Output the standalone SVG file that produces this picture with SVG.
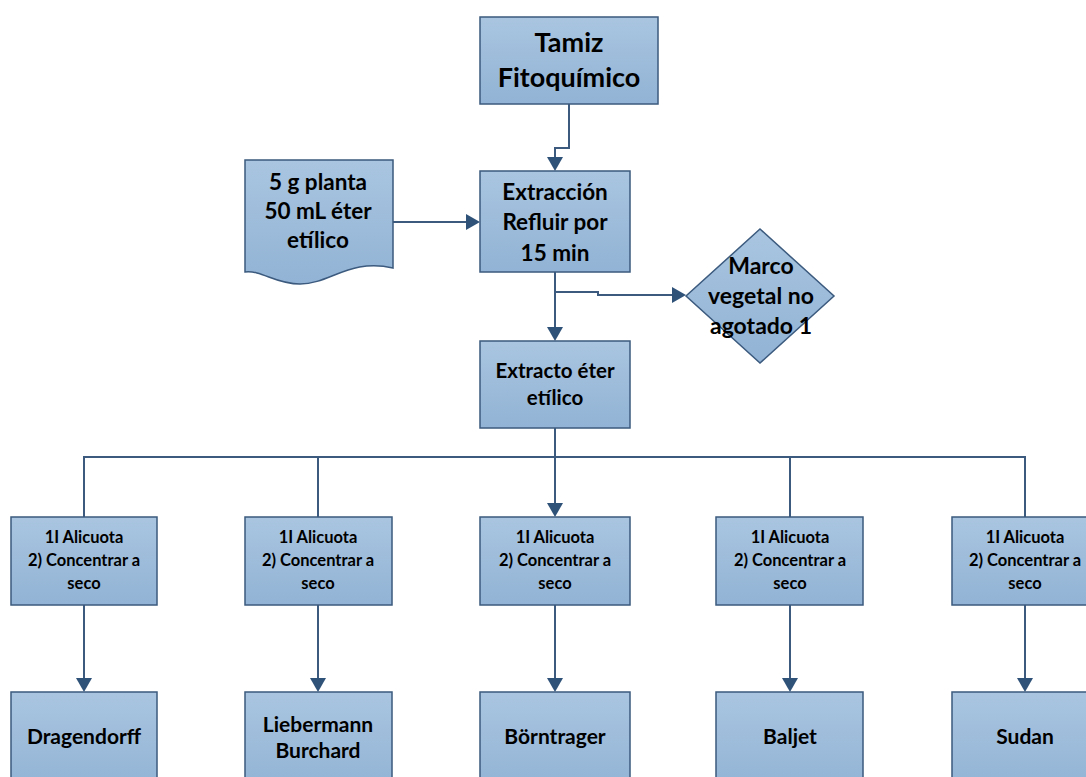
<svg xmlns="http://www.w3.org/2000/svg" width="1086" height="777" viewBox="0 0 1086 777">
<style>
.n{fill:url(#g);stroke:#3b5a7e;stroke-width:1.5}
.t{font-family:Lato,"Liberation Sans",sans-serif;font-weight:bold;fill:#000;text-anchor:middle}
.c{fill:none;stroke:#3b5a7e;stroke-width:2}
</style>
<defs>
<linearGradient id="g" x1="0" y1="0" x2="0" y2="1">
<stop offset="0" stop-color="#a9c5e0"/>
<stop offset="1" stop-color="#92b3d5"/>
</linearGradient>
<marker id="b" markerWidth="14" markerHeight="16" refX="12" refY="8" orient="auto" markerUnits="userSpaceOnUse" viewBox="0 0 14 16">
<path d="M0,0 L14,8 L0,16 Z" fill="#2f5279"/>
</marker>
</defs>
<g id="connectors">
<path class="c" d="M569,104 V148 H555 V169" marker-end="url(#b)"/>
<path class="c" d="M393,222 H478" marker-end="url(#b)"/>
<path class="c" d="M555,272 V339" marker-end="url(#b)"/>
<path class="c" d="M555,292 H598 V295 H684" marker-end="url(#b)"/>
<path class="c" d="M555,428 V515" marker-end="url(#b)"/>
<path class="c" d="M84,517 V457 H1025 V517"/>
<path class="c" d="M318,457 V517"/>
<path class="c" d="M790,457 V517"/>
<path class="c" d="M84,605 V690" marker-end="url(#b)"/>
<path class="c" d="M318,605 V690" marker-end="url(#b)"/>
<path class="c" d="M555,605 V690" marker-end="url(#b)"/>
<path class="c" d="M790,605 V690" marker-end="url(#b)"/>
<path class="c" d="M1025,605 V690" marker-end="url(#b)"/>
</g>
<g id="tamiz">
<rect class="n" x="480" y="17" width="178" height="87"/>
<text class="t" font-size="27"><tspan x="569" y="52">Tamiz</tspan><tspan x="569" y="87">Fitoquímico</tspan></text>
</g>
<g id="documento">
<path class="n" d="M245,160 H393 V268 C350,258 330,284 300,284 C275,284 262,270 245,272 Z"/>
<text class="t" font-size="22.5"><tspan x="318" y="190">5 g planta</tspan><tspan x="318" y="219">50 mL éter</tspan><tspan x="318" y="248">etílico</tspan></text>
</g>
<g id="extraccion">
<rect class="n" x="480" y="171" width="150" height="101"/>
<text class="t" font-size="22.5"><tspan x="555" y="200">Extracción</tspan><tspan x="555" y="230">Refluir por</tspan><tspan x="555" y="261">15 min</tspan></text>
</g>
<g id="marco">
<path class="n" d="M760,229 L834,296 L760,363 L686,296 Z"/>
<text class="t" font-size="23"><tspan x="761" y="274">Marco</tspan><tspan x="761" y="304">vegetal no</tspan><tspan x="761" y="334">agotado 1</tspan></text>
</g>
<g id="extracto">
<rect class="n" x="480" y="341" width="150" height="87"/>
<text class="t" font-size="20.5"><tspan x="555" y="378">Extracto éter</tspan><tspan x="555" y="405">etílico</tspan></text>
</g>
<g id="alicuota1">
<rect class="n" x="11" y="517" width="146" height="88"/>
<text class="t" font-size="16.5"><tspan x="84" y="543">1I Alicuota</tspan><tspan x="84" y="566">2) Concentrar a</tspan><tspan x="84" y="589">seco</tspan></text>
</g>
<g id="alicuota2">
<rect class="n" x="245" y="517" width="147" height="88"/>
<text class="t" font-size="16.5"><tspan x="318" y="543">1I Alicuota</tspan><tspan x="318" y="566">2) Concentrar a</tspan><tspan x="318" y="589">seco</tspan></text>
</g>
<g id="alicuota3">
<rect class="n" x="480" y="517" width="150" height="88"/>
<text class="t" font-size="16.5"><tspan x="555" y="543">1I Alicuota</tspan><tspan x="555" y="566">2) Concentrar a</tspan><tspan x="555" y="589">seco</tspan></text>
</g>
<g id="alicuota4">
<rect class="n" x="716" y="517" width="147" height="88"/>
<text class="t" font-size="16.5"><tspan x="790" y="543">1I Alicuota</tspan><tspan x="790" y="566">2) Concentrar a</tspan><tspan x="790" y="589">seco</tspan></text>
</g>
<g id="alicuota5">
<rect class="n" x="952" y="517" width="147" height="88"/>
<text class="t" font-size="16.5"><tspan x="1025" y="543">1I Alicuota</tspan><tspan x="1025" y="566">2) Concentrar a</tspan><tspan x="1025" y="589">seco</tspan></text>
</g>
<g id="dragendorff">
<rect class="n" x="11" y="692" width="146" height="100"/>
<text class="t" font-size="21" x="84" y="744">Dragendorff</text>
</g>
<g id="liebermann">
<rect class="n" x="245" y="692" width="147" height="100"/>
<text class="t" font-size="21"><tspan x="318" y="732">Liebermann</tspan><tspan x="318" y="758">Burchard</tspan></text>
</g>
<g id="borntrager">
<rect class="n" x="480" y="692" width="150" height="100"/>
<text class="t" font-size="21" x="555" y="744">Börntrager</text>
</g>
<g id="baljet">
<rect class="n" x="716" y="692" width="147" height="100"/>
<text class="t" font-size="21" x="790" y="744">Baljet</text>
</g>
<g id="sudan">
<rect class="n" x="952" y="692" width="147" height="100"/>
<text class="t" font-size="21" x="1025" y="744">Sudan</text>
</g>
</svg>
